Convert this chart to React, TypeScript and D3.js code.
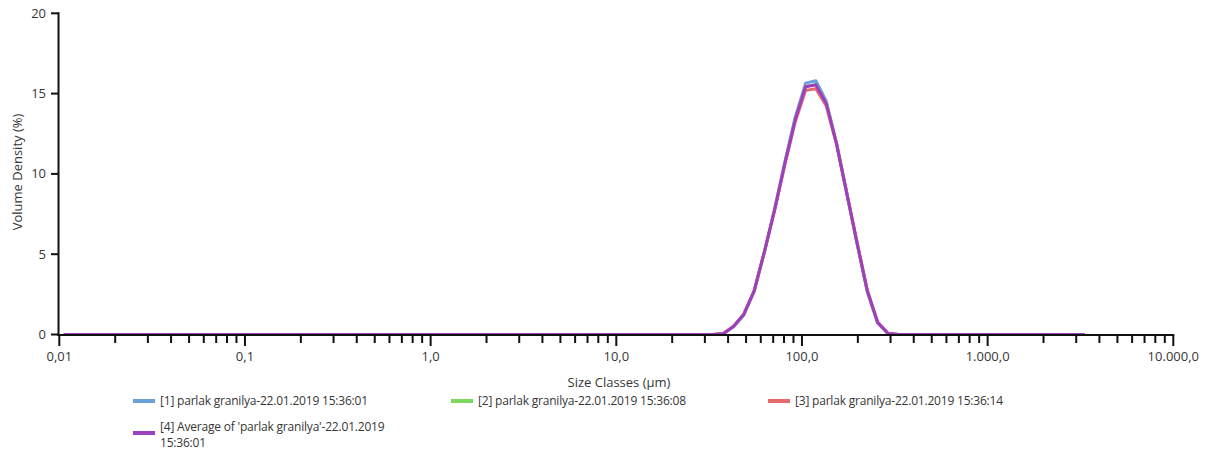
import React from "react";
import * as d3 from "d3";

// Size class centres (µm) and volume density (%) per class
const sizes = [0.0107, 33.15, 37.66, 42.79, 48.62, 55.24, 62.77, 71.31, 81.03, 92.06, 104.6, 118.8, 135.0, 153.4, 174.3, 198.0, 225.0, 255.6, 290.4, 330.0, 3283];
const run1 = [0, 0, 0.05, 0.48, 1.22, 2.68, 5.15, 7.85, 10.8, 13.55, 15.65, 15.8, 14.55, 11.95, 8.8, 5.65, 2.65, 0.72, 0.06, 0, 0];
const run2 = [0, 0, 0.05, 0.5, 1.25, 2.7, 5.15, 7.8, 10.7, 13.4, 15.45, 15.55, 14.4, 11.9, 8.8, 5.7, 2.7, 0.75, 0.07, 0, 0];
const run3 = [0, 0, 0.06, 0.52, 1.28, 2.72, 5.15, 7.75, 10.6, 13.25, 15.2, 15.3, 14.25, 11.85, 8.8, 5.75, 2.75, 0.78, 0.08, 0, 0];
const average = [0, 0, 0.05, 0.5, 1.25, 2.7, 5.15, 7.8, 10.7, 13.4, 15.43, 15.55, 14.4, 11.9, 8.8, 5.7, 2.7, 0.75, 0.07, 0, 0];

const seriesNames = [
  "[1] parlak granilya-22.01.2019 15:36:01",
  "[2] parlak granilya-22.01.2019 15:36:08",
  "[3] parlak granilya-22.01.2019 15:36:14",
  "[4] Average of 'parlak granilya'-22.01.2019 15:36:01",
];
const seriesColors = ["#6a9fdc", "#7ad95e", "#e46a6c", "#9e3fbf"];

const xMajorTicks = [0.01, 0.1, 1, 10, 100, 1000, 10000];
const xTickLabels = ["0,01", "0,1", "1,0", "10,0", "100,0", "1.000,0", "10.000,0"];
const yTicks = [0, 5, 10, 15, 20];

const FONT = "'Open Sans', 'Noto Sans', sans-serif";
const TEXT = "#363636";

export default function App() {
  const width = 1216;
  const height = 454;
  const x = d3.scaleLog().domain([0.01, 10000]).range([59.3, 1173.3]);
  const y = d3.scaleLinear().domain([0, 20]).range([334.5, 13.3]);

  const allSeries = [run1, run2, run3, average];
  const line = d3
    .line<[number, number]>()
    .x((d) => x(d[0]))
    .y((d) => y(d[1]));

  const minorTicks: number[] = [];
  for (let e = -2; e < 4; e++) {
    for (let m = 2; m <= 9; m++) minorTicks.push(m * Math.pow(10, e));
  }

  const axisY = y(0) + 0.5;

  return (
    <div style={{ position: "absolute", left: 0, top: 0 }}>
      <svg width={width} height={height} style={{ display: "block", background: "#fff" }}>
        {/* data lines */}
        <g fill="none" strokeWidth={3} strokeLinejoin="round" strokeLinecap="round">
          {allSeries.map((vals, i) => (
            <path
              key={i}
              d={line(sizes.map((s, j) => [s, vals[j]] as [number, number])) || ""}
              stroke={seriesColors[i]}
            />
          ))}
        </g>

        {/* y axis */}
        <g stroke="#111" strokeWidth={2}>
          <line x1={58.5} x2={58.5} y1={y(20) - 1} y2={axisY + 1} />
          {yTicks.map((t) => (
            <line key={t} x1={51} x2={58.5} y1={y(t)} y2={y(t)} />
          ))}
        </g>
        <g fontFamily={FONT} fontSize={13} fill={TEXT} textAnchor="end">
          {yTicks.map((t) => (
            <text key={t} x={46} y={y(t)} dy="0.35em">
              {t}
            </text>
          ))}
        </g>

        {/* x axis */}
        <g stroke="#111" strokeWidth={2}>
          <line x1={57.5} x2={x(10000) + 1} y1={axisY} y2={axisY} />
          {xMajorTicks.map((t) => (
            <line key={"M" + t} x1={x(t)} x2={x(t)} y1={axisY} y2={axisY + 11} />
          ))}
          {minorTicks.map((t) => (
            <line key={"m" + t} x1={x(t)} x2={x(t)} y1={axisY} y2={axisY + 8} />
          ))}
        </g>
        <g fontFamily={FONT} fontSize={13} fill={TEXT} textAnchor="middle">
          {xMajorTicks.map((t, i) => (
            <text key={t} x={x(t)} y={361}>
              {xTickLabels[i]}
            </text>
          ))}
        </g>

        {/* axis titles */}
        <text x={619} y={387} fontFamily={FONT} fontSize={13} fill={TEXT} textAnchor="middle">
          Size Classes (µm)
        </text>
        <text
          transform={`translate(22,172) rotate(-90)`}
          fontFamily={FONT}
          fontSize={13}
          fill={TEXT}
          textAnchor="middle"
        >
          Volume Density (%)
        </text>

        {/* legend */}
        <g fontFamily={FONT} fontSize={12} fill={TEXT} letterSpacing={-0.2}>
          {[0, 1, 2].map((i) => {
            const lx = [133, 451, 768][i];
            return (
              <g key={i}>
                <line x1={lx} x2={lx + 22} y1={401} y2={401} stroke={seriesColors[i]} strokeWidth={4} />
                <text x={lx + 27} y={401} dy="0.35em">
                  {seriesNames[i]}
                </text>
              </g>
            );
          })}
          <line x1={133} x2={155} y1={433} y2={433} stroke={seriesColors[3]} strokeWidth={4} />
          <text x={160} y={427} dy="0.35em">
            [4] Average of 'parlak granilya'-22.01.2019
          </text>
          <text x={160} y={443} dy="0.35em">
            15:36:01
          </text>
        </g>
      </svg>
    </div>
  );
}
